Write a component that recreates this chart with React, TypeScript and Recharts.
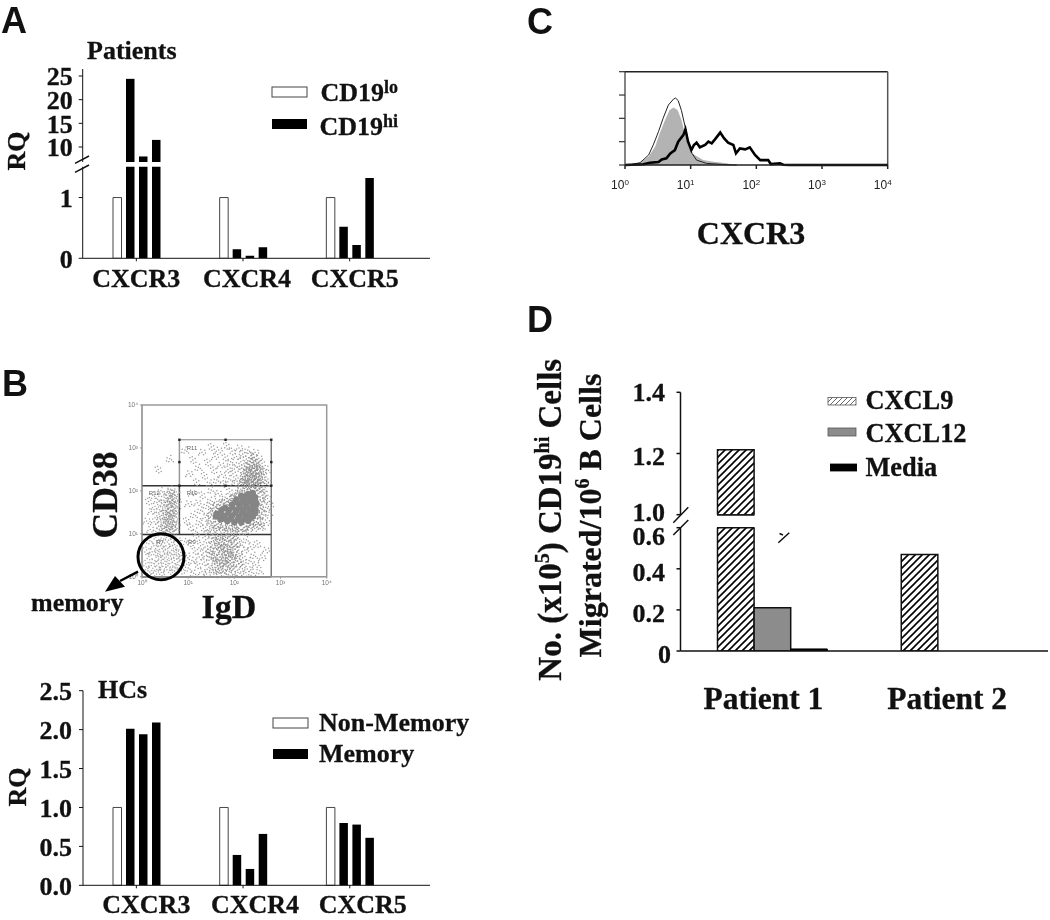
import { Area, Bar, BarChart, ComposedChart, Line, ReferenceArea, ReferenceLine, Scatter, ScatterChart, XAxis, YAxis } from 'recharts';

const serif = '"Liberation Serif", "Times New Roman", serif';
const sans = '"Liberation Sans", Arial, sans-serif';
const ink = '#111';

// Panels A and B (RQ bars)
const genes = ['CXCR3', 'CXCR4', 'CXCR5'];
const patientsLo = [1, 1, 1];
const patientsHi1 = [24.4, 0.15, 0.52];
const patientsHi2 = [8.0, 0.04, 0.22];
const patientsHi3 = [11.5, 0.18, 1.32];
const hcNonMemory = [1, 1, 1];
const hcMemory1 = [2.01, 0.39, 0.8];
const hcMemory2 = [1.94, 0.21, 0.78];
const hcMemory3 = [2.09, 0.66, 0.61];

const patientRows = genes.map((gene, i) => ({ gene, lo: patientsLo[i], a: patientsHi1[i], b: patientsHi2[i], c: patientsHi3[i] }));
const hcRows = genes.map((gene, i) => ({ gene, lo: hcNonMemory[i], a: hcMemory1[i], b: hcMemory2[i], c: hcMemory3[i] }));

// Panel B flow plot, in log decades. Read by eye from the dot cloud.
const coreCloud = [[1.6,1.4],[1.7,1.33],[1.85,1.3],[2.0,1.27],[2.15,1.27],[2.3,1.3],[1.62,1.47],[1.78,1.42],[1.95,1.42],[2.1,1.4],[2.25,1.42],[2.4,1.4],[1.72,1.55],[1.88,1.55],[2.05,1.55],[2.2,1.55],[2.35,1.55],[2.46,1.55],[1.95,1.68],[2.1,1.68],[2.25,1.68],[2.4,1.68],[2.48,1.7],[2.05,1.8],[2.2,1.8],[2.35,1.82],[2.45,1.85],[2.3,1.93],[2.4,1.95],[1.8,1.35],[1.92,1.35],[2.07,1.33],[2.22,1.34],[2.35,1.36],[1.7,1.42],[1.87,1.48],[2.02,1.48],[2.17,1.48],[2.32,1.48],[2.45,1.48],[1.8,1.6],[1.96,1.61],[2.13,1.61],[2.28,1.61],[2.43,1.62],[2.02,1.74],[2.17,1.74],[2.32,1.75],[2.45,1.77],[2.15,1.88],[2.26,1.88],[2.4,1.9]];
const upperCloud = [[0.93,2.95],[1.02,2.4],[1.1,2.72],[1.18,2.2],[1.22,2.55],[1.3,2.9],[1.35,2.35],[1.42,2.66],[1.47,2.18],[1.5,3.02],[1.55,2.48],[1.58,2.8],[1.62,2.25],[1.66,2.95],[1.7,2.6],[1.73,2.38],[1.77,2.16],[1.8,2.78],[1.83,3.05],[1.86,2.5],[1.88,2.28],[1.92,2.68],[1.95,2.92],[1.97,2.4],[2.0,2.18],[2.02,2.58],[2.05,2.8],[2.08,2.3],[2.1,3.0],[2.12,2.5],[2.14,2.68],[2.16,2.2],[2.18,2.86],[2.2,2.4],[2.22,2.58],[2.24,2.3],[2.26,2.74],[2.28,2.16],[2.29,2.95],[2.31,2.47],[2.32,2.62],[2.34,2.26],[2.36,2.82],[2.37,2.38],[2.39,2.55],[2.41,2.7],[2.42,2.18],[2.44,2.32],[2.45,2.9],[2.46,2.48],[2.48,2.62],[2.5,2.24],[2.51,2.4],[2.53,2.76],[2.55,2.54],[2.57,2.16],[2.58,2.33],[2.6,2.64],[2.63,2.45],[2.66,2.25],[2.7,2.5],[2.74,2.2],[2.27,2.44],[2.33,2.5],[2.4,2.44],[2.44,2.6],[2.25,2.22],[2.38,2.3],[2.47,2.2],[2.36,2.18],[0.35,2.5],[0.6,2.75]];
const upperDense = [[2.15,2.15],[2.22,2.34],[2.28,2.55],[2.3,2.28],[2.34,2.42],[2.35,2.68],[2.38,2.14],[2.4,2.34],[2.42,2.52],[2.43,2.78],[2.46,2.28],[2.47,2.42],[2.5,2.58],[2.52,2.14],[2.53,2.34],[2.55,2.46],[2.58,2.24],[2.2,2.26],[2.26,2.1],[2.32,2.16],[2.42,2.08],[2.48,2.1]];
const leftCloud = [[0.1,1.3],[0.14,1.75],[0.18,1.1],[0.2,1.52],[0.23,1.9],[0.26,1.28],[0.28,1.64],[0.3,1.05],[0.32,1.42],[0.34,1.8],[0.36,1.18],[0.38,1.56],[0.4,1.33],[0.41,2.0],[0.43,1.7],[0.44,1.1],[0.46,1.47],[0.47,1.25],[0.48,1.85],[0.5,1.6],[0.51,1.03],[0.52,1.38],[0.54,1.96],[0.55,1.74],[0.56,1.2],[0.57,1.5],[0.58,1.3],[0.59,1.88],[0.6,1.1],[0.61,1.62],[0.62,2.04],[0.63,1.42],[0.64,1.78],[0.65,1.22],[0.66,1.55],[0.67,1.93],[0.68,1.05],[0.69,1.35],[0.7,1.68],[0.71,1.84],[0.72,1.15],[0.73,1.46],[0.74,1.98],[0.75,1.27],[0.76,1.6],[0.77,1.76]];
const leftDense = [[0.46,1.12],[0.5,1.3],[0.53,1.52],[0.55,1.08],[0.57,1.68],[0.58,1.4],[0.6,1.22],[0.61,1.82],[0.62,1.55],[0.64,1.34],[0.65,1.94],[0.66,1.12],[0.67,1.7],[0.68,1.48]];
const memoryCloud = [[0.08,0.3],[0.1,0.62],[0.13,0.14],[0.15,0.47],[0.17,0.84],[0.2,0.26],[0.22,0.58],[0.24,0.08],[0.26,0.72],[0.28,0.38],[0.3,0.92],[0.32,0.17],[0.34,0.54],[0.36,0.3],[0.38,0.78],[0.4,0.45],[0.42,0.1],[0.43,0.66],[0.45,0.24],[0.47,0.88],[0.49,0.52],[0.5,0.36],[0.52,0.72],[0.54,0.16],[0.56,0.6],[0.58,0.94],[0.6,0.3],[0.62,0.48],[0.64,0.8],[0.66,0.1],[0.68,0.66],[0.7,0.38],[0.72,0.2],[0.74,0.56],[0.76,0.86],[0.78,0.28],[0.8,0.46],[0.82,0.7],[0.85,0.14],[0.87,0.5],[0.9,0.34],[0.92,0.82]];
const lowerCloud = [[0.96,0.5],[1.0,0.2],[1.04,0.78],[1.08,0.38],[1.12,0.08],[1.15,0.6],[1.18,0.9],[1.2,0.27],[1.24,0.46],[1.27,0.72],[1.3,0.12],[1.33,0.55],[1.35,0.34],[1.38,0.86],[1.4,0.06],[1.43,0.64],[1.45,0.22],[1.47,0.45],[1.49,0.96],[1.52,0.74],[1.54,0.14],[1.56,0.36],[1.58,0.58],[1.6,0.85],[1.62,0.05],[1.64,0.26],[1.66,0.68],[1.68,0.46],[1.7,0.92],[1.72,0.16],[1.74,0.58],[1.75,0.34],[1.77,0.78],[1.79,0.08],[1.8,0.5],[1.82,0.24],[1.84,0.66],[1.85,0.9],[1.87,0.4],[1.89,0.12],[1.9,0.56],[1.92,0.3],[1.94,0.76],[1.96,0.04],[1.98,0.48],[2.0,0.2],[2.02,0.64],[2.04,0.94],[2.06,0.36],[2.08,0.1],[2.1,0.54],[2.13,0.76],[2.16,0.26],[2.18,0.44],[2.2,0.06],[2.23,0.62],[2.26,0.86],[2.28,0.18],[2.32,0.38],[2.35,0.7],[2.38,0.1],[2.42,0.5],[2.46,0.28],[2.5,0.76],[2.55,0.14],[2.6,0.44],[2.68,0.62],[1.52,0.52],[1.6,0.42],[1.7,0.7],[1.78,0.3],[1.86,0.54],[1.58,0.22],[1.68,0.14],[1.92,0.62]];
const lowerDense = [[1.48,0.62],[1.55,0.84],[1.58,0.46],[1.63,0.72],[1.66,0.94],[1.68,0.3],[1.72,0.62],[1.74,0.82],[1.76,0.44],[1.79,0.68],[1.81,0.92],[1.83,0.36],[1.86,0.76],[1.88,0.52],[1.9,0.2],[1.93,0.88],[1.95,0.4],[1.98,0.7],[2.0,0.94],[2.03,0.5],[2.06,0.78],[2.1,0.3]];
const haloCloud = [[0.96,1.3],[1.0,1.7],[1.05,1.15],[1.08,1.95],[1.12,1.45],[1.16,1.06],[1.2,1.72],[1.24,1.28],[1.27,1.55],[1.3,1.9],[1.33,1.12],[1.37,1.38],[1.4,1.66],[1.43,1.02],[1.45,1.24],[1.47,1.5],[1.48,1.78],[1.5,2.02],[1.52,1.14],[1.55,1.66],[1.57,1.04],[1.6,1.2],[1.62,1.75],[1.65,1.94],[1.67,1.1],[1.72,1.74],[1.75,1.15],[1.78,1.03],[1.8,1.85],[1.84,1.68],[1.88,1.12],[1.9,1.98],[1.92,1.04],[1.96,1.82],[2.02,1.12],[2.06,1.95],[2.1,1.06],[2.14,2.04],[2.2,1.14],[2.26,1.04],[2.32,1.15],[2.38,1.22],[2.44,1.12],[2.48,1.28],[2.52,1.42],[2.56,1.3],[2.58,1.58],[2.6,1.16],[2.62,1.75],[2.64,1.44],[2.66,1.95],[2.68,1.62],[2.7,1.26],[2.72,1.82],[2.75,1.5],[2.78,1.68],[2.55,2.05],[2.6,1.9],[2.55,1.2],[2.62,2.04]];
const coreRim = [[1.48,1.3],[1.5,1.46],[1.56,1.6],[1.62,1.22],[1.68,1.66],[1.75,1.18],[1.8,1.72],[1.88,1.15],[1.9,1.8],[2.0,1.15],[2.0,1.88],[2.1,1.12],[2.1,1.95],[2.22,1.15],[2.22,2.0],[2.35,1.2],[2.35,2.02],[2.48,1.28],[2.48,2.0],[2.55,1.42],[2.56,1.6],[2.56,1.8]];
const gateHandles = [[0.81,3.19],[1.81,3.19],[2.8,3.19],[0.81,2.67],[2.8,2.67],[0.81,2.12],[1.81,2.12],[2.8,2.12]];
const gateLabels = [['R11', 0.86, 3.0], ['R10', 0.86, 1.95], ['R12', 0.04, 1.95], ['R9', 0.89, 0.82], ['R7', 0.2, 0.82]];
const decades = [0, 1, 2, 3, 4];
const decadeLabels = ['10⁰', '10¹', '10²', '10³', '10⁴'];

// Panel C histogram, x in log decades, y in axis ticks
const isotypeX = [0, 0.08, 0.23, 0.36, 0.43, 0.51, 0.58, 0.66, 0.74, 0.77, 0.81, 0.86, 0.91, 0.96, 1.02, 1.09, 1.24, 1.55, 1.7];
const isotypeY = [0, 0.01, 0.1, 0.43, 0.86, 1.43, 2.0, 2.57, 2.83, 2.87, 2.76, 2.33, 1.71, 1.07, 0.5, 0.21, 0.07, 0.01, 0];
const fillX = [0.2, 0.36, 0.46, 0.53, 0.61, 0.68, 0.74, 0.8, 0.86, 0.91, 0.96, 1.02, 1.1, 1.19, 1.35, 1.55, 1.65];
const fillY = [0.04, 0.36, 0.79, 1.36, 1.93, 2.36, 2.46, 2.36, 1.93, 1.36, 0.86, 0.5, 0.36, 0.21, 0.14, 0.07, 0];
const cxcr3X = [0, 0.28, 0.38, 0.51, 0.56, 0.63, 0.69, 0.76, 0.81, 0.89, 0.92, 0.96, 1.01, 1.05, 1.09, 1.14, 1.22, 1.27, 1.32, 1.37, 1.45, 1.51, 1.57, 1.65, 1.69, 1.75, 1.83, 1.9, 1.98, 2.06, 2.18, 2.22, 2.36, 2.41, 2.51, 4];
const cxcr3Y = [0, 0.03, 0.1, 0.13, 0.24, 0.29, 0.5, 0.64, 1.0, 1.29, 1.53, 1.0, 0.64, 0.86, 0.96, 0.76, 0.86, 1.0, 0.93, 1.1, 1.39, 1.14, 0.96, 0.86, 0.5, 0.71, 0.67, 0.76, 0.43, 0.21, 0.21, 0.04, 0.07, 0.01, 0, 0];

// Panel D
const patients = ['Patient 1', 'Patient 2'];
const cxcl9 = [1.212, 0.47];
const cxcl12 = [0.21, 0];
const media = [0.01, 0];
const migrationRows = patients.map((patient, i) => ({ patient, cxcl9: cxcl9[i], cxcl12: cxcl12[i], media: media[i] }));

const toPoints = (xs: number[], ys: number[]) => xs.map((x, i) => ({ x, y: ys[i] }));
const pairs = (list: number[][]) => list.map(([x, y]) => ({ x, y }));

// the top half of a broken axis only draws the bars that reach it
const aboveBreak = (rows: any[], min: number) =>
  rows.map((row) => Object.fromEntries(Object.entries(row).map(([k, v]) => [k, typeof v === 'number' && v < min ? null : v])));

const yTickStyle = { fill: ink, fontFamily: serif, fontWeight: 700, fontSize: 26, stroke: ink, strokeWidth: 0.3 };

// one read point stands for a small clump of events in the flow plot
const clumps = [
  [[0, 0], [2.3, -1.4], [-1.8, 1.9], [3.1, 2.2], [-2.9, -2.1], [0.7, 3.3], [-0.6, -3.2]],
  [[0, 0], [-2.4, 1.1], [1.6, 2.6], [2.8, -1.9], [-1.3, -2.7], [-3.4, 2.9], [3.5, 0.8]],
  [[0, 0], [1.9, 1.2], [-2.6, -0.9], [-0.9, 3.0], [1.1, -3.1], [3.6, 3.0], [-3.2, 2.4]],
];
const Speckle = (fill: string) => (p: any) => {
  const clump = clumps[Math.round(p.cx * 3 + p.cy * 5) % 3];
  return (
    <g>
      {clump.map(([dx, dy], i) => (
        <circle key={i} cx={p.cx + dx} cy={p.cy + dy} r={0.75} fill={fill} />
      ))}
    </g>
  );
};
const Dot = (r: number, fill: string) => (p: any) => <circle cx={p.cx} cy={p.cy} r={r} fill={fill} />;
const Handle = (p: any) => <rect x={p.cx - 1.2} y={p.cy - 1.2} width={2.4} height={2.4} fill="#222" />;

const GeneTick = (nudges: number[], dy: number) => (p: any) => (
  <text x={p.x + nudges[genes.indexOf(p.payload.value)]} y={p.y + dy} textAnchor="middle" fill={ink} stroke={ink} strokeWidth={0.3} fontFamily={serif} fontWeight={700} fontSize={26}>
    {p.payload.value}
  </text>
);

const PatientTick = (p: any) => (
  <text x={p.x - 9} y={p.y + 56} textAnchor="middle" fill={ink} stroke={ink} strokeWidth={0.3} fontFamily={serif} fontWeight={700} fontSize={31.5}>
    {p.payload.value}
  </text>
);

// D's labels sit below their ticks and do not follow a fixed offset
const migrationShift: Record<string, number> = { '1.4': 8.5, '1.2': 11, '1': 6.7, '0.6': 17.3, '0.4': 11.7, '0.2': 12, '0': 12 };
const MigrationTick = (p: any) => {
  const v = p.payload.value;
  return (
    <text x={p.x + (v === 0 ? 6 : 0)} y={p.y + migrationShift[String(v)]} textAnchor="end" fill={ink} stroke={ink} strokeWidth={0.3} fontFamily={serif} fontWeight={700} fontSize={26}>
      {v === 0 ? '0' : v.toFixed(1)}
    </text>
  );
};

const HistTick = (p: any) => (
  <text x={p.x - 5} y={p.y + 18} textAnchor="middle" fill="#222" fontFamily={sans} fontSize={12}>
    10<tspan dy={-4} fontSize={8}>{p.payload.value}</tspan>
  </text>
);

const Empty = () => <g />;

const quantBars = () => [
  <Bar key="lo" dataKey="lo" fill="#fff" stroke="#444" strokeWidth={1} isAnimationActive={false} />,
  <Bar key="a" dataKey="a" fill="#000" isAnimationActive={false} />,
  <Bar key="b" dataKey="b" fill="#000" isAnimationActive={false} />,
  <Bar key="c" dataKey="c" fill="#000" isAnimationActive={false} />,
];

const migrationBars = () => [
  <Bar key="9" dataKey="cxcl9" fill="url(#hatch)" stroke="#111" strokeWidth={1.5} isAnimationActive={false} />,
  <Bar key="12" dataKey="cxcl12" fill="#8c8c8c" stroke="#111" strokeWidth={1.5} isAnimationActive={false} />,
  <Bar key="m" dataKey="media" fill="#000" stroke="#000" strokeWidth={1} isAnimationActive={false} />,
];

const T = ({ x, y, size = 26, rotate, anchor, family = serif, children }: any) => (
  <text
    x={x}
    y={y}
    fontSize={size}
    fontFamily={family}
    fontWeight={700}
    fill={ink}
    stroke={ink}
    strokeWidth={family === serif ? 0.3 : 0}
    textAnchor={anchor}
    transform={rotate ? `rotate(-90 ${x} ${y})` : undefined}
  >
    {children}
  </text>
);

const place = (left: number, top: number) => ({ position: 'absolute' as const, left, top });

const Overlay = () => (
  <svg width={1050} height={920} style={{ position: 'absolute', left: 0, top: 0 }}>
    <defs>
      <pattern id="hatch" patternUnits="userSpaceOnUse" width={7} height={7}>
        <rect width={7} height={7} fill="#fff" />
        <path d="M-1.75,1.75 L1.75,-1.75 M0,7 L7,0 M5.25,8.75 L8.75,5.25" stroke="#000" strokeWidth={1.6} />
      </pattern>
      <pattern id="hatchLight" patternUnits="userSpaceOnUse" width={5} height={5}>
        <rect width={5} height={5} fill="#fff" />
        <path d="M-1,1 L1,-1 M0,5 L5,0 M4,6 L6,4" stroke="#555" strokeWidth={0.9} />
      </pattern>
    </defs>

    <T x={1} y={33} size={36} family={sans}>A</T>
    <T x={2} y={396} size={36} family={sans}>B</T>
    <T x={527} y={34} size={36} family={sans}>C</T>
    <T x={527} y={332} size={36} family={sans}>D</T>

    {/* panel A */}
    <T x={87} y={59}>Patients</T>
    <T x={25} y={151} rotate anchor="middle">RQ</T>
    <path d="M75,163.3 L89,156 M75,172.3 L89,165" stroke={ink} strokeWidth={1.5} />
    <rect x={272} y={87} width={35} height={10} fill="#fff" stroke="#444" strokeWidth={1} />
    <rect x={272} y={119} width={35} height={10} fill="#000" />
    <T x={320.5} y={100.7}>CD19<tspan dy={-8} fontSize={18}>lo</tspan></T>
    <T x={319.5} y={134.7}>CD19<tspan dy={-8} fontSize={18}>hi</tspan></T>

    {/* panel B */}
    <T x={117} y={495} size={35.5} rotate anchor="middle">CD38</T>
    <T x={229} y={618} size={34} anchor="middle">IgD</T>
    <T x={31} y={611}>memory</T>
    <circle cx={161} cy={556.7} r={23} fill="none" stroke="#000" strokeWidth={3} />
    <line x1={138} y1={571.7} x2={120} y2={581} stroke="#000" strokeWidth={2.5} />
    <polygon points="105,591.7 115,576 125,586.7" fill="#000" />

    <T x={98} y={698}>HCs</T>
    <T x={26} y={787} rotate anchor="middle">RQ</T>
    <rect x={273} y={718} width={35} height={10} fill="#fff" stroke="#444" strokeWidth={1} />
    <rect x={273} y={749} width={35} height={10} fill="#000" />
    <T x={319} y={731}>Non-Memory</T>
    <T x={319} y={762}>Memory</T>

    {/* panel C */}
    <T x={751} y={244} size={32} anchor="middle">CXCR3</T>

    {/* panel D */}
    <T x={560.7} y={519.7} size={33} rotate anchor="middle">
      No. (x10<tspan dy={-12} fontSize={20}>5</tspan><tspan dy={12}>) CD19</tspan><tspan dy={-12} fontSize={20}>hi</tspan><tspan dy={12}> Cells</tspan>
    </T>
    <T x={600.8} y={515.5} size={32} rotate anchor="middle">
      Migrated/10<tspan dy={-12} fontSize={20}>6</tspan><tspan dy={12}> B Cells</tspan>
    </T>
    <path d="M673.3,522.7 L688.3,507.3 M673.3,535 L688.3,520" stroke={ink} strokeWidth={1.5} />
    <path d="M778.3,542.7 L789.3,532.7 M779.5,533.5 L783,535" stroke={ink} strokeWidth={1.5} />
    {/* closing edges of the hatched bar at the break */}
    <path d="M717,515 H754.5 M717,527.7 H754.5" stroke={ink} strokeWidth={1.5} />
    <rect x={828} y={397.4} width={28} height={7.6} fill="url(#hatchLight)" stroke="#555" strokeWidth={0.8} />
    <rect x={828} y={428} width={28} height={8} fill="#8c8c8c" stroke="#555" strokeWidth={0.8} />
    <rect x={830} y={463.6} width={27} height={7.8} fill="#000" />
    <T x={865.4} y={408.6} size={26.4}>CXCL9</T>
    <T x={865.4} y={441.8} size={26.4}>CXCL12</T>
    <T x={865.4} y={475.8} size={26.4}>Media</T>
  </svg>
);

export default function App() {
  return (
    <div style={{ position: 'absolute', left: 0, top: 0, width: 1050, height: 920, background: '#fff', overflow: 'hidden', filter: 'blur(0.4px)' }}>
      {/* A: upper part of the broken axis */}
      <div style={place(0, 60)}>
        <BarChart width={430} height={102} data={aboveBreak(patientRows, 6.83)} margin={{ top: 9, right: 0, bottom: 0, left: 0 }} barSize={8.5} barGap={4.5}>
          <XAxis dataKey="gene" hide padding={{ left: 0.3, right: 27 }} />
          <YAxis width={82.7} type="number" domain={[6.83, 26.48]} allowDataOverflow ticks={[10, 15, 20, 25]} interval={0} tick={yTickStyle} tickSize={4} tickMargin={6} stroke={ink} />
          {quantBars()}
        </BarChart>
      </div>
      {/* A: lower part */}
      <div style={place(0, 160)}>
        <BarChart width={430} height={138.3} data={patientRows} margin={{ top: 6.7, right: 0, bottom: 0, left: 0 }} barSize={8.5} barGap={4.5}>
          <XAxis dataKey="gene" height={40} padding={{ left: 0.3, right: 27 }} tick={GeneTick([0, 4, 5], 24)} tickSize={3} tickMargin={2} stroke={ink} interval={0} />
          <YAxis width={82.7} type="number" domain={[0, 1.508]} allowDataOverflow ticks={[0, 1]} interval={0} tick={yTickStyle} tickSize={4} tickMargin={6} stroke={ink} />
          {quantBars()}
        </BarChart>
      </div>

      {/* B: flow plot */}
      <div style={{ ...place(105, 395), filter: 'blur(0.5px)' }}>
        <ScatterChart width={231.7} height={201.7} margin={{ top: 10, right: 10, bottom: 0, left: 0 }}>
          <XAxis dataKey="x" type="number" domain={[0, 4]} ticks={decades} interval={0} height={20} tickFormatter={(v: number) => decadeLabels[v]} tick={{ fontSize: 6.5, fontFamily: sans, fill: '#777' }} tickSize={2} tickMargin={2} stroke="#999" />
          <YAxis dataKey="y" type="number" domain={[0, 4]} ticks={decades} interval={0} width={37} tickFormatter={(v: number) => decadeLabels[v]} tick={{ fontSize: 6.5, fontFamily: sans, fill: '#777' }} tickSize={2} tickMargin={2} stroke="#999" />
          <ReferenceArea x1={0} x2={4} y1={0} y2={4} fill="none" stroke="#999" strokeWidth={1.5} />
          <Scatter data={pairs(upperCloud)} shape={Speckle('#999')} isAnimationActive={false} />
          <Scatter data={pairs(upperDense)} shape={Speckle('#8c8c8c')} isAnimationActive={false} />
          <Scatter data={pairs(leftCloud)} shape={Speckle('#a0a0a0')} isAnimationActive={false} />
          <Scatter data={pairs(leftDense)} shape={Speckle('#949494')} isAnimationActive={false} />
          <Scatter data={pairs(memoryCloud)} shape={Speckle('#a6a6a6')} isAnimationActive={false} />
          <Scatter data={pairs(lowerCloud)} shape={Speckle('#999')} isAnimationActive={false} />
          <Scatter data={pairs(lowerDense)} shape={Speckle('#8c8c8c')} isAnimationActive={false} />
          <Scatter data={pairs(haloCloud)} shape={Speckle('#999')} isAnimationActive={false} />
          <Scatter data={pairs(coreRim)} shape={Speckle('#8a8a8a')} isAnimationActive={false} />
          <Scatter data={pairs(coreCloud)} shape={Dot(3.2, '#858585')} isAnimationActive={false} />
          <ReferenceLine segment={[{ x: 0.81, y: 3.19 }, { x: 2.8, y: 3.19 }]} stroke="#888" strokeWidth={1.2} />
          <ReferenceLine segment={[{ x: 0.81, y: 3.19 }, { x: 0.81, y: 2.12 }]} stroke="#999" strokeWidth={1.5} />
          <ReferenceLine segment={[{ x: 0.81, y: 2.12 }, { x: 0.81, y: 0.98 }]} stroke="#444" strokeWidth={1.5} />
          <ReferenceLine segment={[{ x: 2.8, y: 3.19 }, { x: 2.8, y: 0 }]} stroke="#777" strokeWidth={1.5} />
          <ReferenceLine segment={[{ x: 0, y: 2.12 }, { x: 2.8, y: 2.12 }]} stroke="#333" strokeWidth={1.5} />
          <ReferenceLine segment={[{ x: 0, y: 0.98 }, { x: 2.8, y: 0.98 }]} stroke="#333" strokeWidth={1.5} />
          <ReferenceLine segment={[{ x: 0, y: 0 }, { x: 2.8, y: 0 }]} stroke="#555" strokeWidth={1.5} />
          <Scatter data={pairs(gateHandles)} shape={Handle} isAnimationActive={false} />
          {gateLabels.map(([text, x, y]) => (
            <ReferenceLine key={text as string} segment={[{ x: x as number, y: y as number }, { x: x as number, y: y as number }]} stroke="none" label={{ value: text as string, position: 'right', fontSize: 6, fontFamily: sans, fill: '#666' }} />
          ))}
        </ScatterChart>
      </div>

      {/* B: HC bars */}
      <div style={place(0, 670)}>
        <BarChart width={430} height={255.3} data={hcRows} margin={{ top: 20.7, right: 0, bottom: 0, left: 0 }} barSize={8.5} barGap={4.5}>
          <XAxis dataKey="gene" height={40} padding={{ left: 0, right: 26.9 }} tick={GeneTick([10, 12, 13], 23)} tickSize={3} tickMargin={2} stroke={ink} interval={0} />
          <YAxis width={83} type="number" domain={[0, 2.5]} ticks={[0, 0.5, 1, 1.5, 2, 2.5]} interval={0} tickFormatter={(v: number) => v.toFixed(1)} tick={yTickStyle} tickSize={4} tickMargin={7} stroke={ink} />
          {quantBars()}
        </BarChart>
      </div>

      {/* C: histogram */}
      <div style={place(590, 60)}>
        <ComposedChart width={309.7} height={140} margin={{ top: 11.7, right: 12, bottom: 0, left: 0 }}>
          <XAxis dataKey="x" type="number" domain={[0, 4]} ticks={decades} interval={0} height={35} tick={HistTick} tickSize={4} tickMargin={2} stroke="#222" strokeWidth={1.5} />
          <YAxis type="number" domain={[0, 4]} ticks={decades} interval={0} width={35} tick={Empty} tickSize={6} stroke="#333" strokeWidth={1.2} />
          <ReferenceLine y={4} stroke="#222" strokeWidth={1.5} />
          <ReferenceLine x={4} stroke="#555" strokeWidth={1.5} />
          <Area data={toPoints(fillX, fillY)} dataKey="y" type="linear" fill="#b3b3b3" fillOpacity={1} stroke="none" dot={false} activeDot={false} isAnimationActive={false} />
          <Line data={toPoints(isotypeX, isotypeY)} dataKey="y" type="linear" stroke="#222" strokeWidth={1} dot={false} activeDot={false} isAnimationActive={false} />
          <Line data={toPoints(cxcr3X, cxcr3Y)} dataKey="y" type="linear" stroke="#000" strokeWidth={2.6} dot={false} activeDot={false} isAnimationActive={false} />
        </ComposedChart>
      </div>

      {/* D: upper part of the broken axis */}
      <div style={place(600, 372)}>
        <BarChart width={448} height={155} data={aboveBreak(migrationRows, 1)} margin={{ top: 20.3, right: 0, bottom: 12.3, left: 0 }} barSize={36.6} barGap={0}>
          <XAxis dataKey="patient" hide />
          <YAxis width={80.5} type="number" domain={[1, 1.4]} allowDataOverflow ticks={[1, 1.2, 1.4]} interval={0} tick={MigrationTick} tickSize={4} tickMargin={11.5} stroke={ink} strokeWidth={1.5} />
          {migrationBars()}
        </BarChart>
      </div>
      {/* D: lower part */}
      <div style={place(600, 520)}>
        <BarChart width={448} height={201} data={migrationRows} margin={{ top: 7.7, right: 0, bottom: 0, left: 0 }} barSize={36.6} barGap={0}>
          <XAxis dataKey="patient" height={70} tick={PatientTick} tickSize={0} tickMargin={2} stroke={ink} strokeWidth={1.5} interval={0} />
          <YAxis width={80.5} type="number" domain={[0, 0.6]} allowDataOverflow ticks={[0, 0.2, 0.4, 0.6]} interval={0} tick={MigrationTick} tickSize={4} tickMargin={11.5} stroke={ink} strokeWidth={1.5} />
          {migrationBars()}
        </BarChart>
      </div>

      <Overlay />
    </div>
  );
}
